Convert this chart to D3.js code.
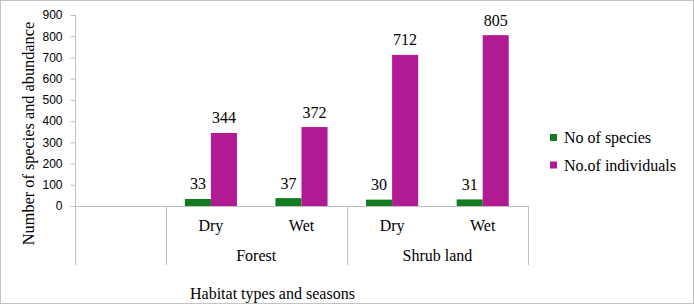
<!DOCTYPE html>
<html>
<head>
<meta charset="utf-8">
<script src="https://cdn.jsdelivr.net/npm/d3@7"></script>
<style>
  html, body { margin: 0; padding: 0; background: #fff; }
  svg { display: block; }
</style>
</head>
<body>
<svg id="chart" width="694" height="304"></svg>
<script>
// ---- data ----
const seasons = ["", "Dry", "Wet", "Dry", "Wet"];
const habitats = ["", "Forest", "Forest", "Shrub land", "Shrub land"];
const habitatGroups = ["Forest", "Shrub land"];
const seriesNames = ["No of species", "No.of individuals"];
const speciesValues = [null, 33, 37, 30, 31];
const individualValues = [null, 344, 372, 712, 805];
const yTicks = [0, 100, 200, 300, 400, 500, 600, 700, 800, 900];
const seriesColors = ["#137b1f", "#b21a94"];
const yTitle = "Number of species and abundance";
const xTitle = "Habitat types and seasons";

(function () {
// ---- layout ----
const svg = d3.select("#chart");
const W = 694, H = 304;
const pLeft = 75, pRight = 528, pTop = 15, pBottom = 206;
const axisColor = "#bfbfbf";
const serif = "'Liberation Serif', 'Times New Roman', serif";

svg.append("rect").attr("x", 0.5).attr("y", 0.5).attr("width", W - 1).attr("height", H - 1)
  .attr("fill", "#fff").attr("stroke", "#c4c4c4");

const idx = d3.range(seasons.length);
const x0 = d3.scaleBand().domain(idx).range([pLeft, pRight]).padding(0);
const x1 = d3.scaleBand().domain(seriesNames).range([0, x0.bandwidth()])
  .paddingInner(0).paddingOuter(0.74);
const y = d3.scaleLinear().domain([0, 900]).range([pBottom, pTop]);

// y axis
const yAxis = d3.axisLeft(y).tickValues(yTicks).tickSize(5).tickPadding(8);
const gy = svg.append("g").attr("transform", `translate(${pLeft + 0.5},0)`).call(yAxis);
gy.select(".domain").remove();
gy.selectAll(".tick line").attr("stroke", axisColor);
gy.selectAll(".tick text").attr("font-family", "'Liberation Sans', Arial, sans-serif")
  .attr("font-size", 12).attr("fill", "#000");

// axis lines
const catBottom = 265;
svg.append("line").attr("x1", pLeft + 0.5).attr("x2", pLeft + 0.5).attr("y1", pTop).attr("y2", catBottom)
  .attr("stroke", axisColor);
svg.append("line").attr("x1", pLeft).attr("x2", pRight).attr("y1", pBottom + 0.5).attr("y2", pBottom + 0.5)
  .attr("stroke", axisColor);

// group dividers
const boundaries = [];
idx.forEach(i => {
  if (i > 0 && habitats[i] !== habitats[i - 1]) boundaries.push(x0(i));
});
boundaries.push(x0(idx[idx.length - 1]) + x0.bandwidth());
boundaries.forEach(bx => {
  svg.append("line").attr("x1", Math.round(bx) + 0.5).attr("x2", Math.round(bx) + 0.5)
    .attr("y1", pBottom).attr("y2", catBottom).attr("stroke", axisColor);
});

// bars
const seriesData = [speciesValues, individualValues];
seriesNames.forEach((name, s) => {
  const vals = seriesData[s];
  const g = svg.append("g");
  idx.filter(i => vals[i] != null).forEach(i => {
    const bx = x0(i) + x1(name);
    g.append("rect").attr("x", bx).attr("y", y(vals[i]))
      .attr("width", x1.bandwidth()).attr("height", y(0) - y(vals[i]))
      .attr("fill", seriesColors[s]);
    g.append("text").attr("x", bx + x1.bandwidth() / 2).attr("y", y(vals[i]) - 9.5)
      .attr("text-anchor", "middle").attr("font-family", serif).attr("font-size", 16)
      .attr("fill", "#000").text(vals[i]);
  });
});

// season labels
idx.forEach(i => {
  if (!seasons[i]) return;
  svg.append("text").attr("x", x0(i) + x0.bandwidth() / 2).attr("y", 231)
    .attr("text-anchor", "middle").attr("font-family", serif).attr("font-size", 16)
    .text(seasons[i]);
});
// habitat labels
habitatGroups.forEach(h => {
  const members = idx.filter(i => habitats[i] === h);
  const cx = (x0(members[0]) + x0(members[members.length - 1]) + x0.bandwidth()) / 2;
  svg.append("text").attr("x", cx).attr("y", 260.5)
    .attr("text-anchor", "middle").attr("font-family", serif).attr("font-size", 16)
    .text(h);
});

// axis titles
svg.append("text").attr("x", 190).attr("y", 298.5).attr("font-family", serif).attr("font-size", 16)
  .text(xTitle);
svg.append("text").attr("transform", "translate(34,133.5) rotate(-90)")
  .attr("text-anchor", "middle").attr("font-family", serif).attr("font-size", 16.3)
  .text(yTitle);

// legend
seriesNames.forEach((name, s) => {
  const cy = 137.5 + s * 27.5;
  svg.append("rect").attr("x", 550).attr("y", cy - 3.5).attr("width", 7).attr("height", 7)
    .attr("fill", seriesColors[s]);
  svg.append("text").attr("x", 564).attr("y", cy + 5.5).attr("font-family", serif)
    .attr("font-size", 16).text(name);
});
})();
</script>
</body>
</html>
